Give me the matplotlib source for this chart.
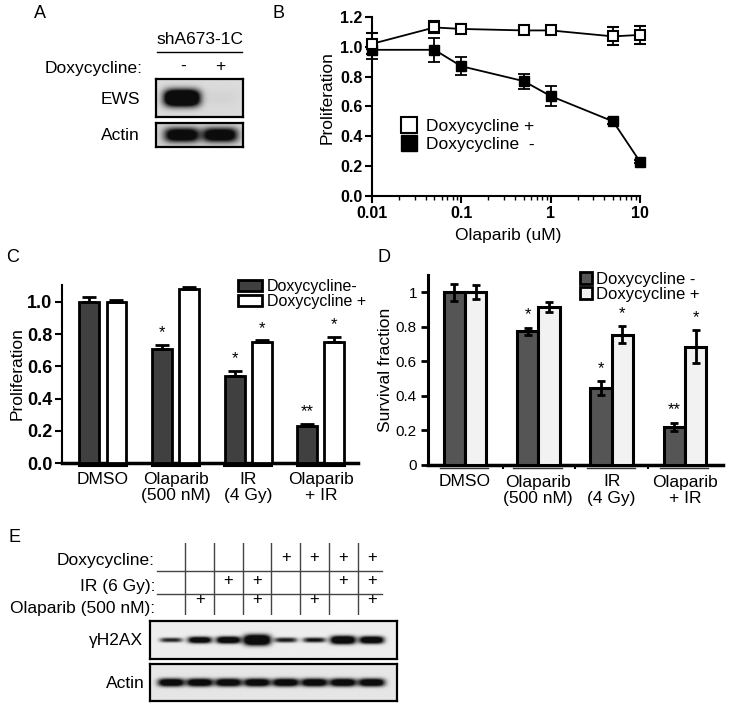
import numpy as np
import matplotlib
matplotlib.use('Agg')
import matplotlib.pyplot as plt
from matplotlib.lines import Line2D
from matplotlib.patches import Patch

plt.rcParams['font.family'] = ['Liberation Sans', 'DejaVu Sans']

# ---- data ----
# B: dose response
olaparib_uM = [0.01, 0.05, 0.1, 0.5, 1, 5, 10]
prolif_dox_plus = [1.02, 1.13, 1.12, 1.11, 1.11, 1.07, 1.08]
err_dox_plus = [0.07, 0.04, 0.03, 0.01, 0.01, 0.06, 0.06]
prolif_dox_minus = [0.98, 0.98, 0.87, 0.77, 0.67, 0.50, 0.23]
err_dox_minus = [0.06, 0.08, 0.06, 0.05, 0.07, 0.02, 0.01]
b_xticklabels = ['0.01', '0.1', '1', '10']
b_yticks = [0.0, 0.2, 0.4, 0.6, 0.8, 1.0, 1.2]

# C: proliferation bars
treatments = ['DMSO', 'Olaparib\n(500 nM)', 'IR\n(4 Gy)', 'Olaparib\n+ IR']
c_minus = [1.00, 0.71, 0.54, 0.23]
c_minus_err = [0.03, 0.02, 0.03, 0.01]
c_plus = [1.00, 1.08, 0.75, 0.75]
c_plus_err = [0.01, 0.01, 0.01, 0.03]
c_sig_minus = ['', '*', '*', '**']
c_sig_plus = ['', '', '*', '*']

# D: survival fraction bars
d_minus = [1.00, 0.775, 0.445, 0.22]
d_minus_err = [0.05, 0.02, 0.04, 0.025]
d_plus = [1.00, 0.915, 0.755, 0.685]
d_plus_err = [0.04, 0.03, 0.05, 0.095]
d_sig_minus = ['', '*', '*', '**']
d_sig_plus = ['', '', '*', '*']

# A: blot densities (lane -, lane +)
ews_density = [1.6, 0.03]
actin_a_density = [1.1, 1.1]

# E: treatment table and blot densities
e_doxy = [0, 0, 0, 0, 1, 1, 1, 1]
e_ir = [0, 0, 1, 1, 0, 0, 1, 1]
e_olap = [0, 1, 0, 1, 0, 1, 0, 1]
h2ax_density = [0.8, 1.2, 1.3, 1.5, 0.85, 0.9, 1.4, 1.3]
h2ax_size = [0.55, 0.8, 0.85, 1.3, 0.6, 0.6, 1.0, 0.9]
actin_e_density = [1.2, 1.2, 1.2, 1.2, 1.2, 1.2, 1.2, 1.2]

W, H = 729, 707
fig = plt.figure(figsize=(W / 100, H / 100), dpi=100)


def box(l, t, r, b):
    return [l / W, 1 - b / H, (r - l) / W, (b - t) / H]


def txt(x, y, s, **kw):
    kw.setdefault('ha', 'center')
    kw.setdefault('va', 'center')
    fig.text(x / W, 1 - y / H, s, **kw)


def blot(rect, xlim, dens, sizes, bw, bh, bg):
    # bands drawn in lane units, lane i centred at x=i
    ax = fig.add_axes(box(*rect))
    xs = np.linspace(xlim[0], xlim[1], 400)
    ys = np.linspace(-1, 1, 120)
    X, Y = np.meshgrid(xs, ys)
    img = np.full(X.shape, bg)
    for i, (d, s) in enumerate(zip(dens, sizes)):
        band = np.exp(-np.abs((X - i) / (bw * (0.8 + 0.25 * s))) ** 4
                      - np.abs(Y / (bh * s)) ** 2.5)
        img = img - d * band
    img = np.clip(img, 0.05, 1)
    ax.imshow(img, cmap='gray', vmin=0, vmax=1, aspect='auto',
              extent=(xlim[0], xlim[1], -1, 1), interpolation='bilinear')
    ax.set_xlim(*xlim)
    ax.set_ylim(-1, 1)
    ax.set_xticks([])
    ax.set_yticks([])
    for s in ax.spines.values():
        s.set_linewidth(1.6)
    return ax


# ---- panel letters ----
txt(40, 13, 'A', fontsize=13)
txt(278, 13, 'B', fontsize=13)
txt(13, 258, 'C', fontsize=13)
txt(384, 258, 'D', fontsize=13)
txt(15, 537, 'E', fontsize=13)

# ---- A ----
txt(200, 40, 'shA673-1C', fontsize=12.5)
fig.add_artist(Line2D([157 / W, 242 / W], [1 - 52 / H, 1 - 52 / H], color='black', lw=1))
txt(143, 68, 'Doxycycline:', fontsize=12.5, ha='right')
txt(183, 66, '-', fontsize=12.5)
txt(220, 66, '+', fontsize=12.5)
txt(140, 100, 'EWS', fontsize=12.5, ha='right')
txt(140, 135, 'Actin', fontsize=12.5, ha='right')
a_xlim = (-0.68, 1.6)
blot((156, 79, 243, 117), a_xlim, ews_density, [1.0, 1.0], 0.45, 0.45, 0.86)
blot((156, 123, 243, 147), a_xlim, actin_a_density, [1.0, 1.0], 0.44, 0.6, 0.82)

# ---- B ----
axB = fig.add_axes(box(372, 17, 640, 196))
axB.set_xscale('log')
axB.errorbar(olaparib_uM, prolif_dox_minus, yerr=err_dox_minus, marker='s', ms=7.5,
             mfc='black', mec='black', color='black', lw=1.3, elinewidth=1.3,
             capsize=4, capthick=1.3, clip_on=False, zorder=3)
axB.errorbar(olaparib_uM, prolif_dox_plus, yerr=err_dox_plus, marker='s', ms=7.5,
             mfc='white', mec='black', mew=1.5, color='black', lw=1.3, elinewidth=1.3,
             capsize=4, capthick=1.3, clip_on=False, zorder=4)
axB.set_xlim(0.01, 10)
axB.set_ylim(0, 1.2)
axB.set_xticks([0.01, 0.1, 1, 10])
axB.set_xticklabels(b_xticklabels)
axB.set_yticks(b_yticks)
axB.set_yticklabels(['%.1f' % v for v in b_yticks])
for sp in ['top', 'right']:
    axB.spines[sp].set_visible(False)
for sp in ['left', 'bottom']:
    axB.spines[sp].set_linewidth(1.5)
axB.tick_params(which='major', length=5, width=1.5, labelsize=11.5, pad=2)
axB.tick_params(which='minor', length=3, width=1)
plt.setp(axB.get_xticklabels() + axB.get_yticklabels(), fontweight='bold')
txt(327, 98, 'Proliferation', fontsize=12.5, rotation=90)
txt(508, 235, 'Olaparib (uM)', fontsize=12.5)
handlesB = [Line2D([], [], ls='none', marker='s', ms=12, mfc='white', mec='black', mew=1.5),
            Line2D([], [], ls='none', marker='s', ms=12, mfc='black', mec='black')]
axB.legend(handlesB, ['Doxycycline +', 'Doxycycline  -'], loc='upper left',
           bbox_to_anchor=(400 / W, 1 - 119 / H), bbox_transform=fig.transFigure,
           frameon=False, fontsize=12.5, handlelength=1.0, handletextpad=0.5,
           labelspacing=0.15, borderpad=0, borderaxespad=0)

# ---- C ----
axC = fig.add_axes(box(62, 285, 358, 463))
x = np.arange(len(treatments))
wC, offC = 0.275, 0.186
axC.bar(x - offC, c_minus, wC, color='#404040', edgecolor='black', lw=2,
        yerr=[np.zeros(4), c_minus_err], capsize=5,
        error_kw=dict(elinewidth=2, capthick=2, ecolor='black'), zorder=3)
axC.bar(x + offC, c_plus, wC, color='white', edgecolor='black', lw=2,
        yerr=[np.zeros(4), c_plus_err], capsize=5,
        error_kw=dict(elinewidth=2, capthick=2, ecolor='black'), zorder=3)
for i in x:
    axC.text(i - offC, c_minus[i] + c_minus_err[i] + 0.03, c_sig_minus[i],
             ha='center', va='bottom', fontsize=12)
    axC.text(i + offC, c_plus[i] + c_plus_err[i] + 0.03, c_sig_plus[i],
             ha='center', va='bottom', fontsize=12)
    axC.plot([i - 0.33, i + 0.33], [-0.02, -0.02], color='black', lw=1.5,
             clip_on=False)
    axC.text(i, -0.055, treatments[i], ha='center', va='top', fontsize=12.5,
             linespacing=1.1)
axC.set_xlim(-0.564, 3.51)
axC.set_ylim(0, 1.104)
axC.set_xticks([])
axC.set_yticks([0, 0.2, 0.4, 0.6, 0.8, 1.0])
axC.set_yticklabels(['0.0', '0.2', '0.4', '0.6', '0.8', '1.0'])
for sp in ['top', 'right']:
    axC.spines[sp].set_visible(False)
axC.spines['left'].set_linewidth(1.5)
axC.spines['bottom'].set_linewidth(2.5)
axC.tick_params(axis='y', length=5, width=1.5, labelsize=13, pad=2)
plt.setp(axC.get_yticklabels(), fontweight='bold')
txt(17, 374, 'Proliferation', fontsize=12.5, rotation=90)
handlesC = [Patch(facecolor='#404040', edgecolor='black', lw=2),
            Patch(facecolor='white', edgecolor='black', lw=2)]
axC.legend(handlesC, ['Doxycycline-', 'Doxycycline +'], loc='upper left',
           bbox_to_anchor=(238 / W, 1 - 279 / H), bbox_transform=fig.transFigure,
           frameon=False, fontsize=11.5, handlelength=1.5, handleheight=0.75,
           handletextpad=0.3, labelspacing=0.0, borderpad=0, borderaxespad=0)

# ---- D ----
axD = fig.add_axes(box(428, 275, 723, 465))
wD, offD = 0.29, 0.145
axD.bar(x - offD, d_minus, wD, color='#555555', edgecolor='black', lw=2.2,
        yerr=d_minus_err, capsize=3,
        error_kw=dict(elinewidth=2, capthick=2, ecolor='black'), zorder=3)
axD.bar(x + offD, d_plus, wD, color='#f2f2f2', edgecolor='black', lw=2.2,
        yerr=d_plus_err, capsize=3,
        error_kw=dict(elinewidth=2, capthick=2, ecolor='black'), zorder=3)
for i in x:
    axD.text(i - offD, d_minus[i] + d_minus_err[i] + 0.03, d_sig_minus[i],
             ha='center', va='bottom', fontsize=12)
    axD.text(i + offD, d_plus[i] + d_plus_err[i] + 0.03, d_sig_plus[i],
             ha='center', va='bottom', fontsize=12)
    axD.plot([i - 0.34, i + 0.32], [-0.015, -0.015], color='#333333', lw=1,
             clip_on=False)
    axD.text(i, -0.055, treatments[i], ha='center', va='top', fontsize=12.5,
             linespacing=1.1)
axD.set_xlim(-0.505, 3.52)
axD.set_ylim(0, 1.1)
axD.set_xticks([0.52, 1.5, 2.5])
axD.set_xticklabels([])
axD.tick_params(axis='x', length=3, width=1.5)
axD.set_yticks([0, 0.2, 0.4, 0.6, 0.8, 1.0])
axD.set_yticklabels(['0', '0.2', '0.4', '0.6', '0.8', '1'])
for sp in ['top', 'right']:
    axD.spines[sp].set_visible(False)
axD.spines['left'].set_linewidth(2.2)
axD.spines['bottom'].set_linewidth(2.5)
axD.tick_params(axis='y', length=5, width=2, labelsize=11, pad=3)
txt(385, 370, 'Survival fraction', fontsize=12.5, rotation=90)
handlesD = [Patch(facecolor='#555555', edgecolor='black', lw=2),
            Patch(facecolor='#f2f2f2', edgecolor='black', lw=2)]
axD.legend(handlesD, ['Doxycycline -', 'Doxycycline +'], loc='upper left',
           bbox_to_anchor=(580 / W, 1 - 272 / H), bbox_transform=fig.transFigure,
           frameon=False, fontsize=12, handlelength=0.7, handleheight=0.7,
           handletextpad=0.25, labelspacing=0.0, borderpad=0, borderaxespad=0)

# ---- E ----
lane_px0, lane_dx = 171, 28.7
e_xlim = ((150 - lane_px0) / lane_dx, (397 - lane_px0) / lane_dx)
axT = fig.add_axes(box(150, 543, 397, 615))
axT.set_xlim(*e_xlim)
axT.set_ylim(3, 0)
axT.axis('off')
for k in range(7):
    axT.plot([k + 0.5, k + 0.5], [0, 3], color='#444444', lw=1)
for yy in [1.17, 2.14]:
    axT.plot([(157 - lane_px0) / lane_dx, (382 - lane_px0) / lane_dx], [yy, yy],
             color='#444444', lw=1)
for row, flags in enumerate([e_doxy, e_ir, e_olap]):
    yrow = [0.6, 1.55, 2.35][row]
    for i, f in enumerate(flags):
        if f:
            axT.text(i, yrow, '+', ha='center', va='center', fontsize=12)
txt(155, 560, 'Doxycycline:', fontsize=12.5, ha='right')
txt(155, 587, 'IR (6 Gy):', fontsize=12.5, ha='right')
txt(155, 609, 'Olaparib (500 nM):', fontsize=12.5, ha='right')

blot((150, 621, 397, 659), e_xlim, h2ax_density, h2ax_size, 0.42, 0.22, 0.93)
blot((150, 664, 397, 701), e_xlim, actin_e_density, [1.0] * 8, 0.44, 0.22, 0.9)
txt(143, 641, 'γH2AX', fontsize=12.5, ha='right')
txt(145, 683, 'Actin', fontsize=12.5, ha='right')

fig.savefig('out.png', dpi=100)
